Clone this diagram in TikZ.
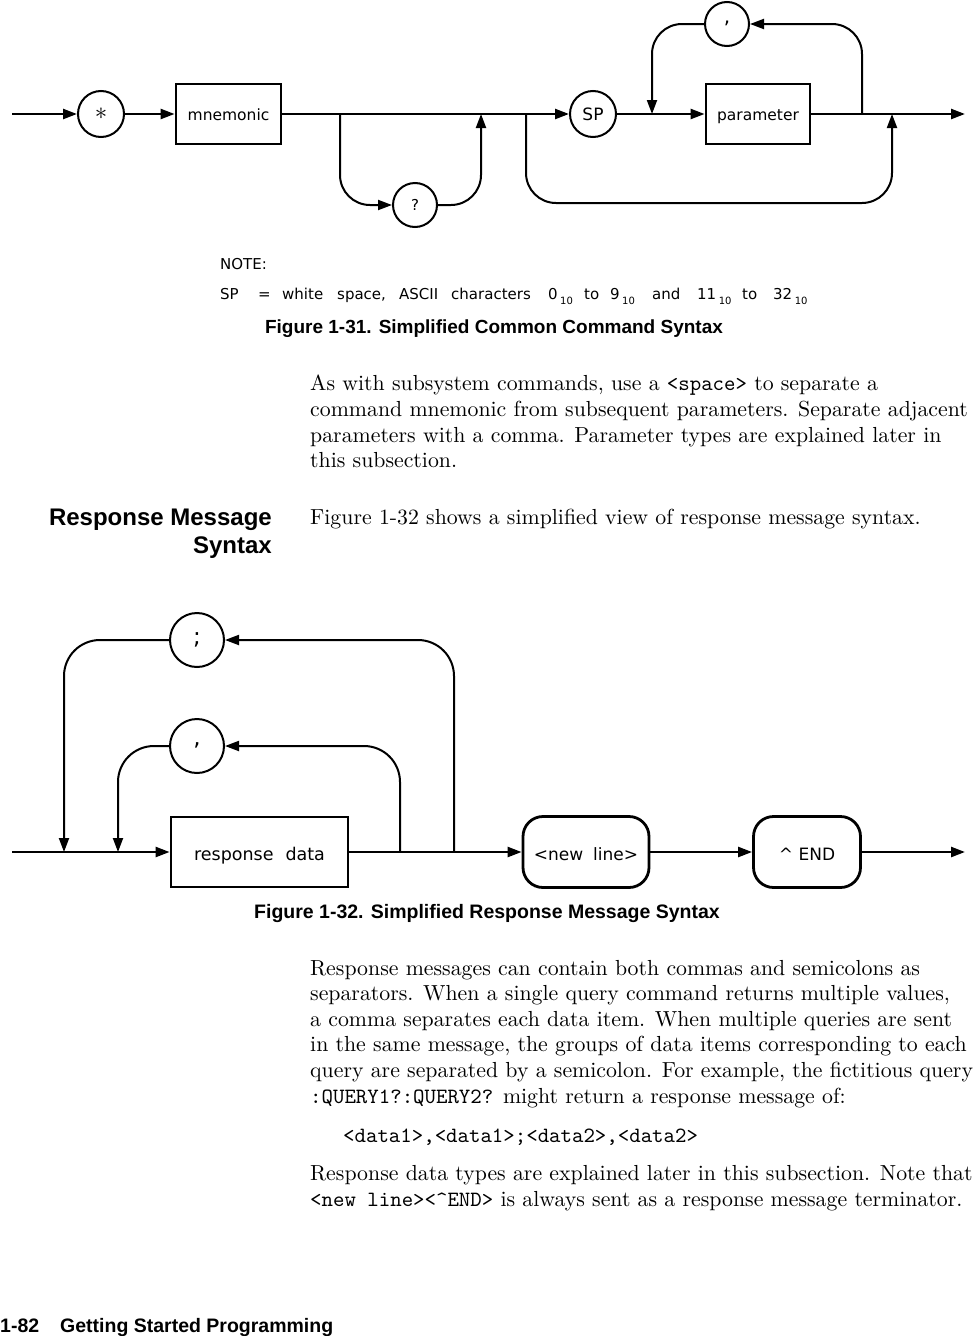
\documentclass[tikz,border=0pt]{standalone}
\usepackage{fontspec}
\usepackage{graphicx}
\usetikzlibrary{arrows.meta}
\newfontfamily\hsans{Liberation Sans}
\newfontfamily\dsans{DejaVu Sans}
\newcommand\bodytext[1]{\scalebox{2.18}{\fontsize{10}{12}\selectfont #1}}
\newcommand\ttx[1]{{\ttfamily #1}}
\newcommand\subten{\raisebox{-5pt}{\fontsize{10}{10}\selectfont 10}}
\begin{document}
\begin{tikzpicture}[x=1pt,y=-1pt,
  tip/.style={-{Triangle[length=14pt,width=10pt]}},
  mainln/.style={line width=2.4pt},
  loopln/.style={line width=2pt, rounded corners=30pt},
  sqbox/.style={draw, line width=2.8pt, minimum width=#1, minimum height=60pt, inner sep=0pt, text height=12pt, text depth=0pt, font=\dsans\fontsize{15.5}{15.5}\selectfont},
  rbox/.style={draw, line width=2.8pt, rounded corners=20pt, minimum width=#1, minimum height=71pt, inner sep=0pt, text height=16pt, text depth=0pt, font=\dsans\fontsize{17}{17}\selectfont},
  circ/.style={draw, circle, line width=2pt, minimum size=#1, inner sep=0pt},
  body/.style={anchor=base west, inner sep=0pt},
  capt/.style={anchor=base, inner sep=0pt, font=\hsans\bfseries\fontsize{19}{19}\selectfont},
  note/.style={anchor=base west, inner sep=0pt, font=\dsans\fontsize{15}{15}\selectfont}
]
\useasboundingbox (0,0) rectangle (973,1336);
\fill[white] (0,0) rectangle (973,1336);

% ---------------- Figure 1-31 ----------------
\node[circ=46pt] (star) at (101,114) {\fontsize{38}{38}\selectfont$\ast$};
\node[sqbox=105pt] (mnem) at (228.5,114) {mnemonic};
\node[circ=44pt] (q) at (415,205) {\dsans\fontsize{15}{15}\selectfont ?};
\node[circ=46pt] (sp) at (593,114) {\dsans\fontsize{17}{17}\selectfont SP};
\node[circ=44pt] (cm1) at (727,24) {\raisebox{3pt}{\dsans\fontsize{20}{20}\selectfont ,}};
\node[sqbox=104pt] (param) at (758,114) {parameter};

\coordinate (in1) at (12,114);
\coordinate (b1) at (340,114);
\coordinate (j1) at (481,114);
\coordinate (b2) at (526,114);
\coordinate (j2) at (892,114);
\coordinate (lp1) at (652,114);
\coordinate (rp1) at (862,114);
\coordinate (out1) at (965,114);

\draw[mainln,tip] (in1) -- (star.west);
\draw[mainln,tip] (star.east) -- (mnem.west);
\draw[mainln,tip] (mnem.east) -- (sp.west);
\draw[mainln,tip] (sp.east) -- (param.west);
\draw[mainln,tip] (param.east) -- (out1);
\draw[loopln,tip] (b1) -- (b1 |- q.west) -- (q.west);
\draw[loopln,tip] (q.east) -- (j1 |- q.east) -- (j1);
\draw[loopln,tip] (b2) -- (526,203) -- (892,203) -- (j2);
\draw[loopln,tip] (rp1) -- (rp1 |- cm1.east) -- (cm1.east);
\draw[loopln,tip] (cm1.west) -- (lp1 |- cm1.west) -- (lp1);

\node[note] (notehd) at (220,269) {NOTE:};
\node[note] (sptext) at (220,299) {\makebox[38pt][l]{SP}\makebox[24pt][l]{=}\makebox[55pt][l]{white}\makebox[62pt][l]{space,}\makebox[52pt][l]{ASCII}\makebox[97pt][l]{characters}\makebox[36pt][l]{0\,\subten}\makebox[26pt][l]{to}\makebox[42pt][l]{9\,\subten}\makebox[45pt][l]{and}\makebox[45pt][l]{11\,\subten}\makebox[31pt][l]{to}32\,\subten};
\node[capt] (cap1) at (494,333) {Figure 1-31. Simplified Common Command Syntax};

\node[body] (p1a) at (310,390) {\bodytext{As with subsystem commands, use a \ttx{<space>} to separate a}};
\node[body] (p1b) at (310,416) {\bodytext{command mnemonic from subsequent parameters. Separate adjacent}};
\node[body] (p1c) at (310,442) {\bodytext{parameters with a comma. Parameter types are explained later in}};
\node[body] (p1d) at (310,467) {\bodytext{this subsection.}};

\node[anchor=base east, inner sep=0pt, font=\hsans\bfseries\fontsize{24}{24}\selectfont] (h1) at (272,525) {Response Message};
\node[anchor=base east, inner sep=0pt, font=\hsans\bfseries\fontsize{24}{24}\selectfont] (h2) at (272,553) {Syntax};
\node[body] (p2) at (310,524) {\bodytext{Figure 1-32 shows a simplified view of response message syntax.}};

% ---------------- Figure 1-32 ----------------
\node[sqbox=177pt, minimum height=70pt, text height=16pt, text depth=0pt, font=\dsans\fontsize{17.5}{17.5}\selectfont] (resp) at (259.5,852) {response\hspace{12pt}data};
\node[rbox=126pt] (nl) at (586,852) {<new\hspace{10pt}line>};
\node[rbox=107pt] (endb) at (807,852) {\textasciicircum\ END};
\node[circ=54pt] (semi) at (197,640) {\dsans\fontsize{23}{23}\selectfont ;};
\node[circ=54pt] (cm2) at (197,746) {\raisebox{3pt}{\dsans\fontsize{23}{23}\selectfont ,}};

\coordinate (in2) at (12,852);
\coordinate (a1) at (64,852);
\coordinate (a2) at (118,852);
\coordinate (c1) at (400,852);
\coordinate (c2) at (454,852);
\coordinate (out2) at (965,852);

\draw[mainln,tip] (in2) -- (resp.west);
\draw[mainln,tip] (resp.east) -- (nl.west);
\draw[mainln,tip] (nl.east) -- (endb.west);
\draw[mainln,tip] (endb.east) -- (out2);
\draw[loopln,rounded corners=36pt,tip] (c2) -- (c2 |- semi.east) -- (semi.east);
\draw[loopln,rounded corners=36pt,tip] (semi.west) -- (a1 |- semi.west) -- (a1);
\draw[loopln,rounded corners=36pt,tip] (c1) -- (c1 |- cm2.east) -- (cm2.east);
\draw[loopln,rounded corners=36pt,tip] (cm2.west) -- (a2 |- cm2.west) -- (a2);

\node[capt, font=\hsans\bfseries\fontsize{19.5}{19.5}\selectfont] (cap2) at (487,918) {Figure 1-32. Simplified Response Message Syntax};

\node[body] (q1) at (310,975) {\bodytext{Response messages can contain both commas and semicolons as}};
\node[body] (q2) at (310,1000) {\bodytext{separators. When a single query command returns multiple values,}};
\node[body] (q3) at (310,1026) {\bodytext{a comma separates each data item. When multiple queries are sent}};
\node[body] (q4) at (310,1051) {\bodytext{in the same message, the groups of data items corresponding to each}};
\node[body] (q5) at (310,1077) {\bodytext{query are separated by a semicolon. For example, the fictitious query}};
\node[body] (q6) at (310,1103) {\bodytext{\ttx{:QUERY1?:QUERY2?} might return a response message of:}};
\node[body] (q7) at (343,1142) {\bodytext{\ttx{<data1>,<data1>;<data2>,<data2>}}};
\node[body] (q8) at (310,1180) {\bodytext{Response data types are explained later in this subsection. Note that}};
\node[body] (q9) at (310,1206) {\bodytext{\ttx{<new line><\textasciicircum END>} is always sent as a response message terminator.}};

\node[anchor=base west, inner sep=0pt, font=\hsans\bfseries\fontsize{19.5}{19.5}\selectfont] (foot) at (0,1332) {\makebox[60pt][l]{1-82}Getting Started Programming};
\end{tikzpicture}
\end{document}
